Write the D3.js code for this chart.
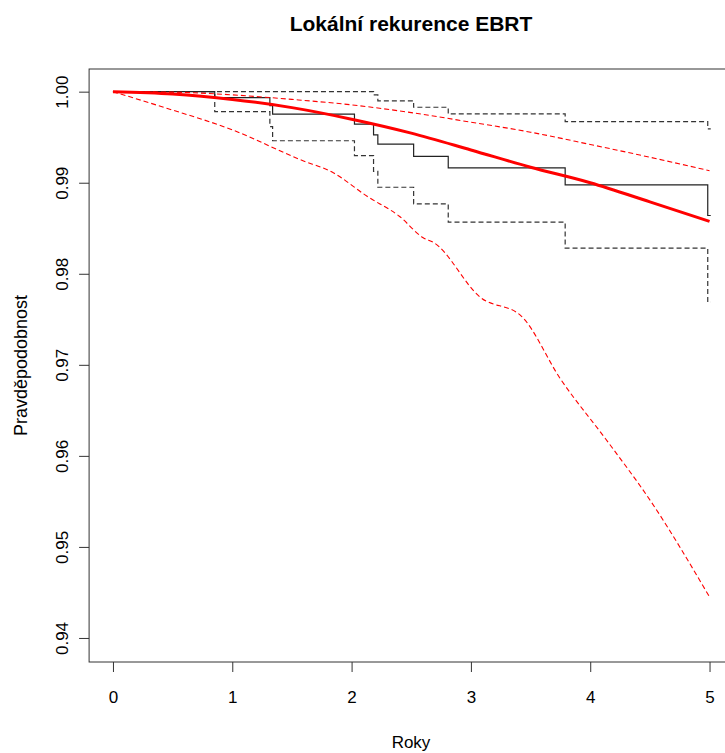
<!DOCTYPE html>
<html>
<head>
<meta charset="utf-8">
<script src="https://cdn.jsdelivr.net/npm/d3@7"></script>
<style>
    body { margin: 0; background: #fff; }
    text { font-family: "Liberation Sans", Arial, sans-serif; fill: #000; }
</style>
</head>
<body>
<div id="chart"></div>
<script>
// Kaplan-Meier estimate (steps) with confidence band
const kmTimes = [0, 0.853, 1.315, 1.338, 2.024, 2.184, 2.22, 2.52, 2.81, 3.79, 4.985];
const kmSurv = [1, 0.99934, 0.99847, 0.99753, 0.99643, 0.99526, 0.99424, 0.99289, 0.99162, 0.98976, 0.9864];
const kmUpper = [1, 1, 1, 1, 1, 0.99964, 0.999, 0.99829, 0.99756, 0.99672, 0.99592];
const kmLower = [1, 0.99781, 0.99617, 0.99461, 0.99297, 0.99125, 0.9895, 0.98768, 0.98567, 0.98282, 0.9769];
const kmEnd = 5.01;

// Fitted curve and its band
const fitTimes = [0, 0.5, 1, 1.5, 2, 2.5, 3, 3.5, 4, 4.5, 5];
const fitSurv = [1, 0.99975, 0.99915, 0.99825, 0.99698, 0.99545, 0.9936, 0.9917, 0.99, 0.9879, 0.98575];
const fitUpper = [1, 0.99995, 0.99965, 0.99915, 0.99855, 0.9977, 0.99665, 0.99555, 0.9942, 0.9928, 0.99132];
const lowerTimes = [0, 0.45, 1.0, 1.57, 1.85, 2.13, 2.4, 2.6, 2.69, 3.08, 3.42, 3.75, 4.15, 4.51, 5.0];
const fitLower = [1, 0.99818, 0.99581, 0.99253, 0.99107, 0.98851, 0.98632, 0.98396, 0.98341, 0.9774, 0.97538, 0.96846, 0.9615, 0.95497, 0.9445];

// Ticks
const xTicks = [0, 1, 2, 3, 4, 5];
const yTicks = [0.94, 0.95, 0.96, 0.97, 0.98, 0.99, 1.00];

// Set dimensions
let width = 725,
    height = 753;

let x = d3.scaleLinear().domain([-0.2, 5.2]).range([89.1, 733.4]);
let y = d3.scaleLinear().domain([0.93736, 1.00249]).range([662, 69]);

let svg = d3.select("#chart")
    .append("svg")
        .attr("width", width)
        .attr("height", height);

// Title
svg.append("text")
    .attr("x", 411)
    .attr("y", 31)
    .attr("text-anchor", "middle")
    .style("font-size", "21px")
    .style("font-weight", "bold")
    .text("Lokální rekurence EBRT");

// Axes
let xAxis = svg.append("g")
    .attr("transform", `translate(0,${y.range()[0]})`)
    .call(d3.axisBottom(x).tickValues(xTicks).tickFormat(d3.format("d")).tickSize(10).tickSizeOuter(0));
xAxis.select(".domain").remove();
xAxis.selectAll("line").attr("stroke", "#333");
xAxis.selectAll("text")
    .attr("y", 41)
    .attr("dy", 0)
    .style("font-size", "17px");

let yAxis = svg.append("g")
    .attr("transform", `translate(${x.range()[0]},0)`)
    .call(d3.axisLeft(y).tickValues(yTicks).tickFormat(d3.format(".2f")).tickSize(10).tickSizeOuter(0));
yAxis.select(".domain").remove();
yAxis.selectAll("line").attr("stroke", "#333");
yAxis.selectAll("text")
    .attr("x", 0)
    .attr("y", -21)
    .attr("dy", 0)
    .attr("transform", "rotate(-90)")
    .attr("text-anchor", "middle")
    .style("font-size", "17px");

// Box
svg.append("rect")
    .attr("x", x.range()[0])
    .attr("y", y.range()[1])
    .attr("width", x.range()[1] - x.range()[0])
    .attr("height", y.range()[0] - y.range()[1])
    .attr("fill", "none")
    .attr("stroke", "#333")
    .attr("stroke-width", 1);

// Axis titles
svg.append("text")
    .attr("x", 411)
    .attr("y", 748)
    .attr("text-anchor", "middle")
    .style("font-size", "17px")
    .text("Roky");

svg.append("text")
    .attr("transform", `translate(27,${(y.range()[0] + y.range()[1]) / 2}) rotate(-90)`)
    .attr("text-anchor", "middle")
    .style("font-size", "18px")
    .text("Pravděpodobnost");

// Step lines
let stepLine = d3.line()
    .x(d => x(d[0]))
    .y(d => y(d[1]))
    .curve(d3.curveStepAfter);

let stepData = (vals) => {
    let pts = kmTimes.map((t, i) => [t, vals[i]]);
    pts.push([kmEnd, vals[vals.length - 1]]);
    return pts;
};

let plot = svg.append("g");

[kmUpper, kmLower].forEach(vals => {
    plot.append("path")
        .attr("d", stepLine(stepData(vals)))
        .attr("fill", "none")
        .attr("stroke", "#333")
        .attr("stroke-width", 1.2)
        .attr("stroke-dasharray", "5,3");
});

plot.append("path")
    .attr("d", stepLine(stepData(kmSurv)))
    .attr("fill", "none")
    .attr("stroke", "#222")
    .attr("stroke-width", 1.2);

// Fitted curves
let smoothLine = d3.line()
    .x(d => x(d[0]))
    .y(d => y(d[1]))
    .curve(d3.curveMonotoneX);

plot.append("path")
    .attr("d", smoothLine(fitTimes.map((t, i) => [t, fitUpper[i]])))
    .attr("fill", "none")
    .attr("stroke", "#ff0000")
    .attr("stroke-width", 1.1)
    .attr("stroke-dasharray", "5,3");

plot.append("path")
    .attr("d", smoothLine(lowerTimes.map((t, i) => [t, fitLower[i]])))
    .attr("fill", "none")
    .attr("stroke", "#ff0000")
    .attr("stroke-width", 1.1)
    .attr("stroke-dasharray", "5,3");

plot.append("path")
    .attr("d", smoothLine(fitTimes.map((t, i) => [t, fitSurv[i]])))
    .attr("fill", "none")
    .attr("stroke", "#ff0000")
    .attr("stroke-width", 3);
</script>
</body>
</html>
